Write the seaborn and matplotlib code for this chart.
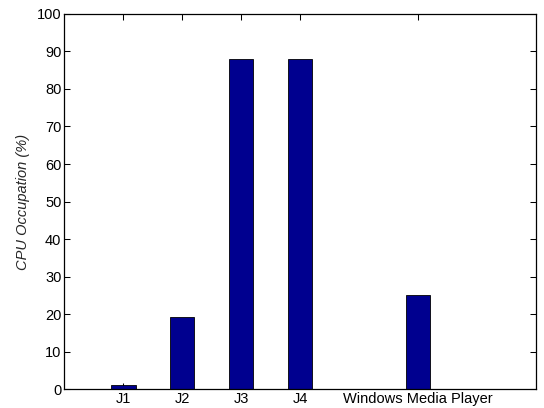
import matplotlib
matplotlib.use("Agg")
import matplotlib.pyplot as plt
import numpy as np
import pandas as pd
import seaborn as sns

# bar positions (MATLAB-style numeric x), values and the labelled ticks
positions = [1, 2, 3, 4, 5, 6, 7]
cpu_values = [1.2, 19.2, 88.0, 88.0, 0.0, 25.0, 0.0]
tick_pos = [1, 2, 3, 4, 6]
tick_labels = ["J1", "J2", "J3", "J4", "Windows Media Player"]

sns.set_style("white")
plt.rcParams["font.family"] = ["Liberation Sans", "DejaVu Sans"]
plt.rcParams["font.size"] = 10.5

df = pd.DataFrame({"pos": positions, "cpu": cpu_values})

fig = plt.figure(figsize=(5.44, 4.08), dpi=100)
ax1 = fig.add_subplot(111)
plt.subplots_adjust(left=0.118, right=0.985, bottom=0.046, top=0.966)

sns.barplot(x="pos", y="cpu", data=df, native_scale=True, width=0.42,
            color="#00008f", saturation=1, edgecolor="black", linewidth=0.6,
            ax=ax1)

ax1.set_xlim(0, 8)
ax1.set_ylim(0, 100)
ax1.set_yticks(np.linspace(0, 100, 11))
ax1.set_xticks(tick_pos)
ax1.set_xticklabels(tick_labels)
ax1.set_xlabel("")
ax1.set_ylabel("CPU Occupation (%)", style="italic", fontsize=10.5, labelpad=5)

ax1.tick_params(direction="in", length=4, width=0.75, top=True, right=True,
                bottom=True, left=True, labelsize=10.5, colors="black", pad=2)
for sp in ax1.spines.values():
    sp.set_visible(True)
    sp.set_color("black")
    sp.set_linewidth(0.9)

plt.savefig("out.png", dpi=100)
